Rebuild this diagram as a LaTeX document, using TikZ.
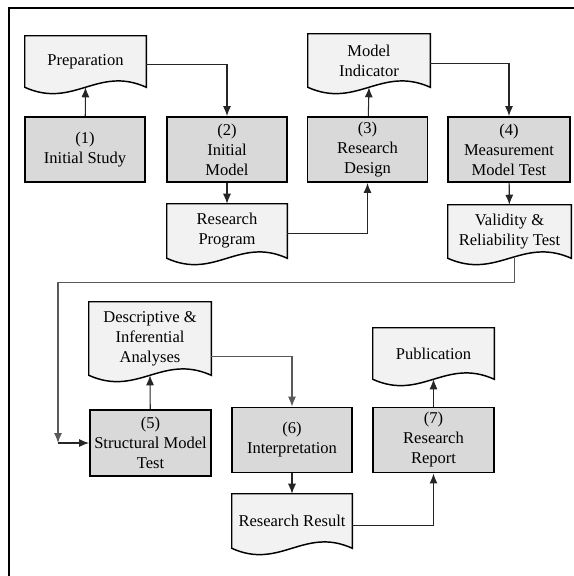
\documentclass[tikz,border=0pt]{standalone}
\usepackage{fontspec}
\setmainfont{Liberation Serif}
\usetikzlibrary{arrows.meta,positioning,calc,backgrounds}

\begin{document}
\begin{tikzpicture}[x=0.75pt,y=-0.75pt,
		stage/.style={draw, line width=1.4pt, fill=gray!30, minimum width=90pt, minimum height=48.75pt,
			inner sep=1pt, align=center, font=\fontsize{12.4pt}{15pt}\selectfont},
		docnode/.style={minimum width=90.75pt, inner sep=1pt, align=center, font=\fontsize{12.4pt}{15pt}\selectfont},
		docline/.style={draw=black, line width=1.1pt, fill=gray!10},
		conn/.style={draw=black!85, line width=0.8pt, -{Latex[length=7.5pt,width=6pt]}}]
	\useasboundingbox (0,0) rectangle (574,576);

	% frame
	\draw[line width=1.6pt] (9,576) -- (9,8) -- (574,8);

	% stages
	\node[stage] (s1) at (85,149.5) {(1)\\Initial Study};
	\node[stage] (s2) at (227,149.5) {(2)\\Initial\\Model};
	\node[stage] (s3) at (367.5,149.5) {(3)\\Research\\Design};
	\node[stage, minimum width=91.5pt] (s4) at (509,149.5) {(4)\\Measurement\\Model Test};
	\node[stage, minimum width=90.75pt, minimum height=49.5pt] (s5) at (150.5,443) {(5)\\Structural Model\\Test};
	\node[stage] (s6) at (292,440) {(6)\\Interpretation};
	\node[stage, minimum width=90.75pt] (s7) at (433.5,440) {(7)\\Research\\Report};

	% documents
	\node[docnode, minimum height=38.25pt] (prep) at (85.5,61.5) {Preparation};
	\node[docnode, minimum width=90pt, minimum height=40.5pt] (prog) at (227,231) {Research\\Program};
	\node[docnode, minimum width=91.5pt, minimum height=39.75pt] (ind) at (369,60.5) {Model\\Indicator};
	\node[docnode, minimum width=92.25pt, minimum height=39.75pt] (valid) at (509.5,231.5) {Validity \&\\Reliability Test};
	\node[docnode, minimum width=91.5pt, minimum height=54.75pt] (desc) at (150,338.5) {Descriptive \&\\Inferential\\Analyses};
	\node[docnode, minimum height=38.25pt] (publ) at (433.5,353.5) {Publication};
	\node[docnode, minimum width=90pt, minimum height=40.5pt] (result) at (292,521) {Research Result};

	\begin{scope}[on background layer]
		\foreach \n in {prep,prog,ind,valid,desc,publ,result}
		\filldraw[docline] (\n.north west) -- (\n.north east) -- (\n.south east)
			.. controls ($(\n.south west)!0.6!(\n.south east)+(0,-22)$) and ($(\n.south west)!0.4!(\n.south east)+(0,22)$) .. (\n.south west) -- cycle;
	\end{scope}

	% connectors
	\coordinate (turn) at (58,443);
	\draw[conn] (s1) -- (prep.south);
	\draw[conn] (prep.-3) -| (s2.north);
	\draw[conn] (s2) -- (prog);
	\draw[conn] (prog.-2) -| (s3.south);
	\draw[conn] (s3) -- (ind.south);
	\draw[conn] (ind.-3) -| (s4.north);
	\draw[conn] (s4) -- (valid);
	\draw[conn, draw=black!65] ([xshift=4pt]valid.south) -- ++(0,24) -| (turn);
	\draw[conn] (turn) -- (s5.west);
	\draw[conn] (s5) -- (desc.south);
	\draw[conn, draw=black!65] (desc.-16) -| (s6.north);
	\draw[conn] (s6) -- (result);
	\draw[conn] (result.-4) -| (s7.south);
	\draw[conn] (s7) -- (publ.south);
\end{tikzpicture}
\end{document}
